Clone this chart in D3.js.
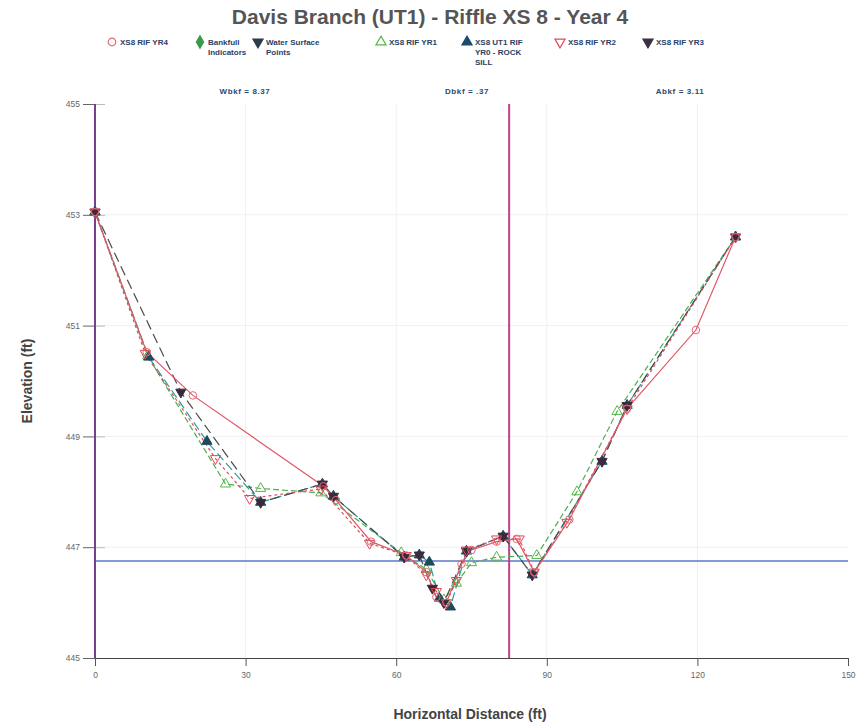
<!DOCTYPE html>
<html>
<head>
<meta charset="utf-8">
<script src="https://cdn.jsdelivr.net/npm/d3@7/dist/d3.min.js"></script>
<style>
  body { margin: 0; background: #fff; }
  svg { display: block; font-family: "Liberation Sans", Arial, sans-serif; }
</style>
</head>
<body>
<svg id="chart" width="856" height="725"></svg>
<script>
// Cross-section survey points: [horizontal distance (ft), elevation (ft)]
const yr0 = [[0,453.05],[10.7,450.43],[22.3,448.91],[33,447.81],[45.3,448.14],[47.5,447.92],[61.6,446.82],[64.6,446.86],[66.6,446.73],[68.6,446.08],[70.8,445.92],[74,446.93],[81.3,447.2],[87.1,446.5],[101,448.55],[106,449.56],[127.6,452.6]];
const yr1 = [[0,453.05],[10.5,450.45],[26,448.14],[33,448.06],[45,447.98],[61,446.9],[66,446.6],[69.5,446.05],[72,446.35],[75,446.72],[80,446.82],[88,446.85],[96,448.0],[104,449.45],[127.6,452.6]];
const yr2 = [[0,453.05],[10,450.5],[24,448.6],[30.8,447.88],[45,448.05],[54.7,447.07],[62,446.85],[66,446.5],[68,446.2],[70,446.0],[72,446.4],[74,446.95],[80,447.15],[84.5,447.15],[87.5,446.55],[94,447.45],[106,449.5],[127.6,452.6]];
const yr3 = [[0,453.05],[17.1,449.8],[33,447.81],[45.3,448.14],[47.5,447.92],[61.6,446.82],[64.6,446.86],[67.2,446.26],[69.5,446.0],[74,446.93],[81.3,447.2],[87.1,446.5],[101,448.55],[106,449.56],[127.6,452.6]];
const yr4 = [[0,453.05],[10.3,450.52],[19.5,449.74],[45.5,448.1],[48,447.85],[55,447.1],[62,446.85],[66,446.55],[68,446.1],[70,446.0],[73,446.7],[75,446.95],[80,447.1],[84,447.15],[87.5,446.55],[94.5,447.5],[106,449.5],[119.7,450.92],[127.6,452.6]];

// Reference lines
const waterSurface = [[0,446.75],[150,446.75]];
const leftPin = [[0,455],[0,445]];
const rightPin = [[82.5,455],[82.5,445]];

// Axis ticks and labels
const xTicks = [0,30,60,90,120,150];
const yTicks = [445,447,449,451,453,455];
const bkfLabels = ["Wbkf = 8.37", "Dbkf = .37", "Abkf = 3.11"];

const svg = d3.select("#chart");
const x = d3.scaleLinear().domain([0,150]).range([95,848]);
const y = d3.scaleLinear().domain([445,455]).range([658,104]);

// Title
svg.append("text").attr("x", 430).attr("y", 24).attr("text-anchor","middle")
  .attr("font-size", 21).attr("font-weight","bold").attr("fill","#555")
  .text("Davis Branch (UT1) - Riffle XS 8 - Year 4");

// Gridlines
const grid = svg.append("g");
grid.selectAll(".gx").data(xTicks.slice(1,-1)).join("line")
  .attr("x1", d=>x(d)).attr("x2", d=>x(d)).attr("y1", y(455)).attr("y2", y(445))
  .attr("stroke","#f0f0f0");
grid.selectAll(".gy").data(yTicks.slice(1,-1)).join("line")
  .attr("x1", x(0)).attr("x2", x(150)).attr("y1", d=>y(d)).attr("y2", d=>y(d))
  .attr("stroke","#f0f0f0");

// Axes
const yAxis = svg.append("g").attr("transform",`translate(${x(0)},0)`)
  .call(d3.axisLeft(y).tickValues(yTicks).tickSize(12).tickFormat(d3.format("d")));
yAxis.select(".domain").remove();
yAxis.selectAll(".tick line").attr("x2", 0).attr("x1", -12).attr("stroke","#666").clone().attr("x1",0).attr("x2",10).attr("stroke","#bbb");
yAxis.selectAll(".tick text").attr("font-size", 8.5).attr("fill","#666").attr("x",-15);

const xAxis = svg.append("g").attr("transform",`translate(0,${y(445)})`)
  .call(d3.axisBottom(x).tickValues(xTicks).tickSize(8));
xAxis.select(".domain").attr("stroke","#444");
xAxis.selectAll(".tick line").attr("stroke","#555");
xAxis.selectAll(".tick text").attr("font-size", 8.5).attr("fill","#666").attr("dy", "1.1em");

// Axis titles
svg.append("text").attr("transform",`translate(32,${(y(455)+y(445))/2}) rotate(-90)`)
  .attr("text-anchor","middle").attr("font-size",14).attr("font-weight","bold").attr("fill","#444")
  .text("Elevation (ft)");
svg.append("text").attr("x", 470).attr("y", 719).attr("text-anchor","middle")
  .attr("font-size",14).attr("font-weight","bold").attr("fill","#444")
  .text("Horizontal Distance (ft)");

const line = d3.line().x(d=>x(d[0])).y(d=>y(d[1]));

// Reference lines
svg.append("path").datum(waterSurface).attr("d", line).attr("stroke","#5b79c9").attr("stroke-width",1.6).attr("fill","none");
svg.append("path").datum(leftPin).attr("d", line).attr("stroke","#7b3f8f").attr("stroke-width",2).attr("fill","none");
svg.append("path").datum(rightPin).attr("d", line).attr("stroke","#c0408a").attr("stroke-width",2).attr("fill","none");

// Bankfull statistics
svg.selectAll(".bkf").data(bkfLabels).join("text")
  .attr("x", (d,i)=>[245,467,680][i]).attr("y", 94).attr("text-anchor","middle")
  .attr("font-size", 8).attr("font-weight","bold").attr("fill","#2c4a6e").attr("letter-spacing",0.6)
  .text(d=>d);

// Series definitions
const series = [
  {name:"yr1", data: yr1, stroke:"#4bb04b", dash:"6,3", sym:d3.symbolTriangle, rot:0, fill:"none", mstroke:"#5ab54a"},
  {name:"yr0", data: yr0, stroke:"#2a9d9d", dash:"9,4", sym:d3.symbolTriangle, rot:0, fill:"#1d4a5c", mstroke:"#1d4a5c"},
  {name:"yr3", data: yr3, stroke:"#4a4a4a", dash:"10,5", sym:d3.symbolTriangle, rot:180, fill:"#3b2a3c", mstroke:"#3b2a3c"},
  {name:"yr2", data: yr2, stroke:"#de4a5a", dash:"3,3", sym:d3.symbolTriangle, rot:180, fill:"none", mstroke:"#e04858"},
  {name:"yr4", data: yr4, stroke:"#e05866", dash:null, sym:d3.symbolCircle, rot:0, fill:"none", mstroke:"#e06a76"}
];

series.forEach(s => {
  svg.append("path").datum(s.data).attr("d", line).attr("fill","none")
    .attr("stroke", s.stroke).attr("stroke-width", 1.2)
    .attr("stroke-dasharray", s.dash);
});
series.forEach(s => {
  svg.append("g").selectAll("path").data(s.data).join("path")
    .attr("d", d3.symbol().type(s.sym).size(45))
    .attr("transform", d=>`translate(${x(d[0])},${y(d[1])}) rotate(${s.rot})`)
    .attr("fill", s.fill).attr("stroke", s.mstroke).attr("stroke-width", 1);
});

// Legend
const legend = [
  {lx:112, lines:["XS8 RIF YR4"], sym:d3.symbolCircle, rot:0, fill:"none", stroke:"#e06a76"},
  {lx:200, lines:["Bankfull","Indicators"], sym:d3.symbolDiamond, rot:0, fill:"#3a9a4a", stroke:"#3a9a4a"},
  {lx:258, lines:["Water Surface","Points"], sym:d3.symbolTriangle, rot:180, fill:"#2d3d4d", stroke:"#2d3d4d"},
  {lx:381, lines:["XS8 RIF YR1"], sym:d3.symbolTriangle, rot:0, fill:"none", stroke:"#5ab54a"},
  {lx:467, lines:["XS8 UT1 RIF","YR0 - ROCK","SILL"], sym:d3.symbolTriangle, rot:0, fill:"#1d4a6c", stroke:"#1d4a6c"},
  {lx:560, lines:["XS8 RIF YR2"], sym:d3.symbolTriangle, rot:180, fill:"none", stroke:"#e04858"},
  {lx:648, lines:["XS8 RIF YR3"], sym:d3.symbolTriangle, rot:180, fill:"#3b3040", stroke:"#3b3040"}
];
const lg = svg.append("g").selectAll("g").data(legend).join("g")
  .attr("transform", d=>`translate(${d.lx},42)`);
lg.append("path").attr("d", d=>d3.symbol().type(d.sym).size(45)())
  .attr("transform", d=>`rotate(${d.rot})`)
  .attr("fill", d=>d.fill).attr("stroke", d=>d.stroke).attr("stroke-width",1.2);
lg.each(function(d){
  const t = d3.select(this).append("text").attr("x", 8).attr("y", 3)
    .attr("font-size", 8).attr("font-weight","bold").attr("fill","#2b3f63");
  d.lines.forEach((l,i)=> t.append("tspan").attr("x",8).attr("dy", i===0?0:10).text(l));
});
</script>
</body>
</html>
